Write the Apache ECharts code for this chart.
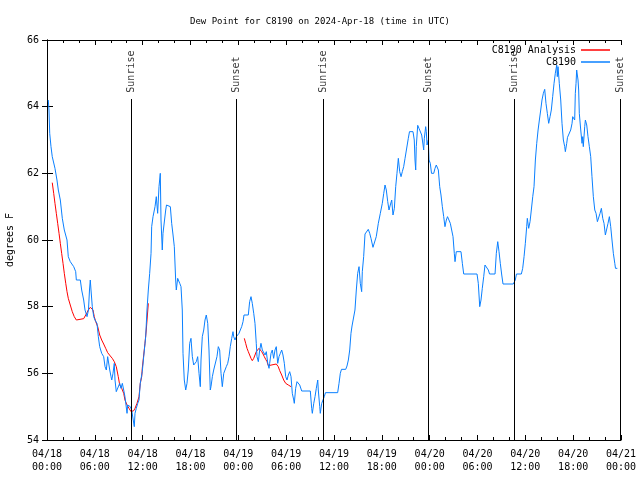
<!DOCTYPE html>
<html>
<head>
<meta charset="utf-8">
<script src="https://cdn.jsdelivr.net/npm/echarts@6/dist/echarts.min.js"></script>
<style>html,body{margin:0;padding:0;background:#fff}#c{width:640px;height:480px}</style>
</head>
<body>
<div id="c"></div>
<script>
// hours since 2024-04-18 00:00 UTC
const c8190Time = [0.16,0.25,0.34,0.5,0.66,0.88,1.0,1.25,1.42,1.67,1.92,2.17,2.51,2.67,2.92,3.35,3.6,3.68,4.18,4.35,4.6,4.77,5.02,5.2,5.33,5.43,5.52,5.68,5.86,6.02,6.27,6.44,6.61,6.86,7.11,7.28,7.44,7.61,7.78,7.87,8.03,8.12,8.28,8.44,8.53,8.69,8.94,9.12,9.28,9.45,9.62,9.78,10.04,10.12,10.45,10.62,10.95,11.04,11.2,11.38,11.54,11.7,11.95,12.13,12.38,12.54,12.71,12.88,13.05,13.13,13.3,13.55,13.71,13.88,14.05,14.21,14.3,14.46,14.55,14.71,14.89,14.99,15.47,15.64,15.81,15.97,16.14,16.22,16.39,16.65,16.81,16.97,17.06,17.22,17.4,17.56,17.72,17.9,18.06,18.23,18.4,18.56,18.73,18.9,19.07,19.23,19.32,19.48,19.66,19.82,19.98,20.16,20.32,20.48,20.57,20.74,20.91,21.16,21.32,21.49,21.66,21.83,21.99,22.17,22.49,22.67,22.83,22.99,23.17,23.33,23.42,23.58,23.75,23.92,24.08,24.25,24.42,24.59,24.71,25.25,25.42,25.59,25.75,25.93,26.09,26.25,26.34,26.51,26.68,26.84,27.01,27.18,27.35,27.51,27.69,27.85,27.93,28.1,28.26,28.43,28.6,28.76,28.94,29.1,29.27,29.44,29.6,29.77,29.94,30.11,30.27,30.44,30.61,30.77,30.95,31.02,31.19,31.36,31.52,31.7,31.95,33.03,33.2,33.28,33.46,33.62,33.78,33.96,34.03,34.21,34.28,34.46,34.62,34.78,34.93,36.46,36.63,36.79,36.94,37.47,37.63,37.8,37.97,38.13,38.26,38.47,38.63,38.8,38.97,39.14,39.3,39.47,39.55,39.72,39.89,40.3,40.48,40.64,40.89,41.14,41.3,41.56,41.81,42.06,42.24,42.4,42.56,42.74,42.9,43.06,43.24,43.4,43.57,43.74,43.9,44.07,44.24,44.41,44.57,44.74,44.91,45.16,45.32,45.47,45.91,46.07,46.16,46.25,46.32,46.5,46.66,46.83,47.0,47.17,47.25,47.33,47.5,47.58,47.67,47.83,47.92,48.08,48.23,48.51,48.67,48.83,48.92,49.09,49.26,49.42,49.59,49.76,49.92,50.09,50.24,50.43,50.59,50.76,50.93,51.09,51.18,51.34,51.93,52.1,52.27,53.94,54.1,54.28,54.44,54.6,54.78,54.94,55.19,55.36,55.51,56.2,56.36,56.54,56.7,56.86,57.04,57.2,58.49,58.74,58.89,59.5,59.67,59.84,60.0,60.17,60.25,60.42,60.59,60.75,60.93,61.09,61.26,61.43,61.6,61.76,61.93,62.09,62.26,62.43,62.59,62.76,62.93,63.1,63.26,63.43,63.6,63.76,63.94,64.01,64.1,64.26,64.44,64.6,64.77,64.94,65.02,65.19,65.29,65.52,65.69,65.86,65.94,66.1,66.19,66.27,66.36,66.44,66.61,66.69,66.77,66.95,67.11,67.2,67.27,67.45,67.53,67.7,67.86,68.03,68.2,68.36,68.53,68.71,68.87,69.04,69.22,69.37,69.54,69.71,69.87,70.04,70.21,70.37,70.54,70.71,70.87,71.04,71.22,71.31,71.54];
const c8190Dew = [64.2,63.9,63.2,62.8,62.5,62.5,62.15,61.8,61.5,61.2,60.65,60.3,60.0,59.5,59.35,59.2,59.05,58.8,58.8,58.5,58.2,57.9,57.7,57.9,58.5,58.8,58.5,58.0,57.7,57.6,57.5,57.1,56.8,56.6,56.5,56.2,56.1,56.5,56.45,56.1,55.9,55.8,56.0,56.3,55.8,55.45,55.45,55.7,55.55,55.7,55.5,55.3,54.8,55.05,55.0,54.9,54.4,54.8,54.95,55.1,55.2,55.7,56.05,56.5,57.1,57.9,58.5,59.0,59.6,60.4,60.7,61.0,61.3,60.8,61.6,62.0,60.6,59.7,60.2,60.25,60.9,61.05,61.0,60.5,60.15,59.8,58.8,58.5,58.85,58.7,58.6,57.9,56.6,55.8,55.5,55.7,56.1,56.9,57.05,56.5,56.25,56.2,56.35,56.5,56.0,55.6,56.4,57.1,57.3,57.6,57.75,57.5,56.7,55.5,55.6,55.9,56.1,56.15,56.5,56.8,56.7,56.0,55.6,56.0,56.2,56.3,56.5,56.8,57.05,57.25,57.1,57.0,57.1,57.15,57.2,57.3,57.4,57.55,57.75,57.75,58.15,58.3,58.1,57.8,57.5,56.9,56.5,56.35,56.7,56.9,56.7,56.65,56.55,56.65,56.3,56.15,56.3,56.6,56.7,56.45,56.7,56.8,56.3,56.5,56.6,56.7,56.55,56.3,55.9,55.8,55.95,56.05,55.9,55.4,55.2,55.1,55.55,55.75,55.8,55.65,55.47,55.47,54.95,54.8,55.1,55.3,55.55,55.8,55.5,55.0,54.8,55.1,55.2,55.3,55.42,55.42,55.7,56.0,56.12,56.12,56.22,56.4,56.7,57.2,57.42,57.42,57.9,58.5,59.0,59.2,58.7,58.45,59.05,59.5,60.18,60.32,60.2,60.05,59.78,59.78,60.1,60.5,60.8,61.1,61.4,61.65,61.5,61.15,60.9,61.05,61.2,60.75,60.95,61.6,62.0,62.45,62.05,61.9,62.05,62.2,62.45,62.5,63.05,63.25,63.25,63.0,62.4,62.1,62.8,63.44,63.35,63.3,63.15,62.85,62.7,63.05,63.4,63.25,62.85,63.0,62.4,62.3,62.0,62.0,62.15,62.25,62.3,62.1,61.6,61.35,61.0,60.7,60.4,60.6,60.7,60.7,60.5,60.3,60.1,59.6,59.35,59.65,59.65,59.3,58.98,58.98,58.7,58.0,58.2,58.55,58.9,59.25,59.25,59.1,58.98,58.98,59.6,59.95,59.65,59.3,58.95,58.68,58.68,58.8,58.98,58.98,59.15,59.5,59.9,60.4,60.65,60.35,60.55,60.9,61.3,61.6,62.4,62.9,63.3,63.6,63.9,64.2,64.4,64.52,64.1,63.8,63.5,63.7,63.9,64.3,64.7,65.0,65.25,64.9,65.2,64.7,64.2,63.5,63.0,62.8,62.65,62.9,63.08,63.08,63.3,63.5,63.7,63.65,63.6,64.4,64.7,65.1,64.8,64.5,63.8,63.3,62.9,63.1,62.8,63.4,63.6,63.45,63.1,62.8,62.5,61.9,61.3,60.9,60.8,60.55,60.6,60.8,60.95,60.65,60.5,60.15,60.15,60.5,60.7,60.4,60.0,59.6,59.3,59.15,59.15];

const analysisTime = [0.66,0.84,1.0,1.17,1.34,1.51,1.67,1.84,2.01,2.17,2.35,2.51,2.67,2.92,3.17,3.42,3.68,4.6,4.85,5.02,5.18,5.43,5.61,5.77,5.93,6.11,6.36,6.61,6.86,7.11,7.36,7.61,7.94,8.19,8.44,8.69,8.94,9.12,9.37,9.62,9.78,10.04,10.29,10.54,10.7,10.88,11.04,11.29,11.54,11.7,11.88,11.95,12.29,12.45,12.71,18.0,24.75,24.92,25.09,25.25,25.42,25.59,25.75,25.93,26.09,26.25,26.42,26.59,26.76,26.93,27.1,27.26,27.43,27.6,27.76,27.97,28.76,29.01,29.19,29.44,29.69,29.94,30.27,30.61];
const analysisDew = [61.72,61.4,61.1,60.8,60.5,60.2,59.9,59.6,59.3,59.0,58.7,58.45,58.25,58.05,57.85,57.7,57.6,57.64,57.7,57.82,57.9,57.98,58.02,57.9,57.7,57.55,57.4,57.15,57.0,56.88,56.75,56.62,56.52,56.45,56.35,56.2,55.9,55.65,55.55,55.4,55.2,55.05,54.95,54.85,54.8,54.88,54.95,55.1,55.3,55.7,55.9,56.15,56.9,57.3,58.1,null,57.05,56.9,56.75,56.65,56.55,56.45,56.38,56.45,56.55,56.65,56.7,56.75,56.7,56.65,56.58,56.5,56.42,56.35,56.23,56.27,56.28,56.2,56.08,55.95,55.8,55.7,55.65,55.6];

const sunTimes = [10.62, 23.75, 34.66, 47.83, 58.62, 71.96];
const sunLabels = ['Sunrise', 'Sunset', 'Sunrise', 'Sunset', 'Sunrise', 'Sunset'];

const xTickLabels = ['04/18\n00:00','04/18\n06:00','04/18\n12:00','04/18\n18:00','04/19\n00:00','04/19\n06:00','04/19\n12:00','04/19\n18:00','04/20\n00:00','04/20\n06:00','04/20\n12:00','04/20\n18:00','04/21\n00:00'];

const MONO = 'DejaVu Sans Mono';
const pair = (t, v) => t.map((x, i) => [x, v[i]]);

const chart = echarts.init(document.getElementById('c'), null, {renderer: 'canvas'});
const axisLineStyle = {color: '#000', width: 1};
chart.setOption({
  animation: false,
  backgroundColor: '#fff',
  title: {
    text: 'Dew Point for C8190 on 2024-Apr-18 (time in UTC)',
    left: 'center', top: 12,
    textStyle: {fontFamily: MONO, fontSize: 9, fontWeight: 'normal', color: '#000'}
  },
  legend: [
    {data: ['C8190 Analysis'], right: 30, top: 45, orient: 'vertical', align: 'right',
     icon: 'rect', itemWidth: 29, itemHeight: 1.5, itemGap: 0, padding: 0,
     textStyle: {fontFamily: MONO, fontSize: 10, color: '#000'}},
    {data: ['C8190'], right: 30, top: 57, orient: 'vertical', align: 'right',
     icon: 'rect', itemWidth: 29, itemHeight: 1.5, itemGap: 0, padding: 0,
     textStyle: {fontFamily: MONO, fontSize: 10, color: '#000'}}
  ],
  grid: {left: 47, right: 19, top: 40, bottom: 40, containLabel: false, outerBoundsMode: 'none'},
  xAxis: [
    {type: 'value', min: 0, max: 72, interval: 6, position: 'bottom',
     axisLine: {show: true, lineStyle: axisLineStyle},
     axisTick: {show: true, inside: true, length: 5, lineStyle: axisLineStyle},
     minorTick: {show: true, splitNumber: 3, length: 3, lineStyle: axisLineStyle},
     splitLine: {show: false},
     axisLabel: {fontFamily: MONO, fontSize: 10, color: '#000', margin: 8, lineHeight: 13,
       formatter: v => xTickLabels[Math.round(v / 6)]}},
    {type: 'value', min: 0, max: 72, interval: 6, position: 'top',
     axisLine: {show: true, lineStyle: axisLineStyle},
     axisTick: {show: true, inside: true, length: 5, lineStyle: axisLineStyle},
     minorTick: {show: true, splitNumber: 3, length: 3, lineStyle: axisLineStyle},
     splitLine: {show: false}, axisLabel: {show: false}}
  ],
  yAxis: [
    {type: 'value', min: 54, max: 66, interval: 2, position: 'left',
     name: 'degrees F', nameLocation: 'middle', nameGap: 32, nameRotate: 90,
     nameTextStyle: {fontFamily: MONO, fontSize: 10, color: '#000'},
     axisLine: {show: true, lineStyle: axisLineStyle},
     axisTick: {show: true, inside: true, length: 6, lineStyle: axisLineStyle},
     splitLine: {show: false},
     axisLabel: {fontFamily: MONO, fontSize: 10, color: '#000', margin: 8}},
    {type: 'value', min: 54, max: 66, interval: 2, position: 'right',
     axisLine: {show: true, lineStyle: axisLineStyle},
     axisTick: {show: true, inside: true, length: 5, lineStyle: axisLineStyle},
     splitLine: {show: false}, axisLabel: {show: false}}
  ],
  series: [
    {name: 'C8190 Analysis', type: 'line', data: pair(analysisTime, analysisDew),
     showSymbol: false, symbol: 'none', connectNulls: false,
     lineStyle: {color: '#ff0000', width: 1}, itemStyle: {color: '#ff0000'}, z: 2},
    {name: 'C8190', type: 'line', data: pair(c8190Time, c8190Dew),
     showSymbol: false, symbol: 'none',
     lineStyle: {color: '#0a80ff', width: 1}, itemStyle: {color: '#0a80ff'}, z: 3,
     markLine: {silent: true, symbol: 'none', label: {show: false},
       lineStyle: {color: '#000', width: 1, type: 'solid'},
       data: sunTimes.map(t => [{coord: [t, 64.23]}, {coord: [t, 54]}])}},
    {name: 'sun', type: 'scatter', symbolSize: 0, silent: true,
     itemStyle: {color: '#000'},
     data: sunTimes.map((t, i) => [t, 64.42, sunLabels[i]]),
     label: {show: true, position: 'inside', rotate: 90, align: 'left', verticalAlign: 'middle',
       fontFamily: MONO, fontSize: 10, color: '#000', textBorderWidth: 0,
       formatter: p => p.value[2]}, z: 4}
  ]
});
</script>
</body>
</html>
